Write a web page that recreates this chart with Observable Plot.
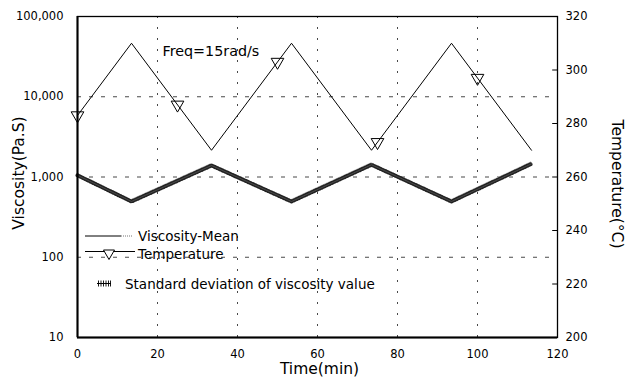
<!DOCTYPE html>
<html><head><meta charset="utf-8">
<script src="https://cdn.jsdelivr.net/npm/d3@7"></script>
<script src="https://cdn.jsdelivr.net/npm/@observablehq/plot@0.6"></script>
<style>
body{margin:0;background:#fff;}
#wrap{position:relative;width:626px;height:390px;}
#legend{position:absolute;left:0;top:0;pointer-events:none;}
</style></head><body><div id="wrap"></div>
<script>
// ---- data ----
const timeVertices = [0, 13.5, 33.5, 53.5, 73.5, 93.5, 113.5];        // min
const temperature  = [283, 310, 270, 310, 270, 310, 270];              // °C
const viscosityMean = [1050, 495, 1390, 495, 1420, 495, 1460];         // Pa.S
const viscositySD   = [60, 28, 80, 28, 80, 28, 85];                    // Pa.S
const markerTimes = [0, 25, 50, 75, 100];
const markerTemps = [283, 287, 303, 273, 297];
const timeTicks = [0, 20, 40, 60, 80, 100, 120];
const viscTicks = [10, 100, 1000, 10000, 100000];
const tempTicks = [200, 220, 240, 260, 280, 300, 320];
const gridTimes = [20, 40, 60, 80, 100];
const gridVisc = [100, 1000, 10000];

// map temperature onto the log viscosity scale (right axis)
const tMin = 200, tMax = 320, lMin = 1, lMax = 5;
const tToV = t => Math.pow(10, lMin + (t - tMin) / (tMax - tMin) * (lMax - lMin));

const visc = timeVertices.map((t, i) => ({t, mean: viscosityMean[i], sd: viscositySD[i]}));
const temp = timeVertices.map((t, i) => ({t, T: temperature[i]}));
const markers = markerTimes.map((t, i) => ({t, T: markerTemps[i]}));

const font = "DejaVu Sans, Liberation Sans, sans-serif";

const chart = Plot.plot({
  width: 626, height: 390,
  marginLeft: 77, marginRight: 69, marginTop: 16, marginBottom: 53,
  style: {fontFamily: font, fontSize: "11.5px", color: "#000", background: "#fff"},
  x: {domain: [0, 120]},
  y: {type: "log", domain: [10, 100000]},
  marks: [
    Plot.gridX(gridTimes, {stroke: "#000", strokeOpacity: 0.9, strokeWidth: 0.8, strokeDasharray: "2,9"}),
    Plot.gridY(gridVisc, {stroke: "#000", strokeOpacity: 0.9, strokeWidth: 0.8, strokeDasharray: "4,8"}),
    // standard deviation band with hatching
    Plot.areaY(visc, {x: "t", y1: d => d.mean - d.sd, y2: d => d.mean + d.sd, fill: "#b8b8b8"}),
    Plot.line(visc, {x: "t", y: "mean", stroke: "#222", strokeWidth: 4, strokeDasharray: "0.5,2.3"}),
    Plot.line(visc, {x: "t", y: "mean", stroke: "#555", strokeWidth: 0.8}),
    // temperature
    Plot.line(temp, {x: "t", y: d => tToV(d.T), stroke: "#000", strokeWidth: 1}),
    Plot.dot(markers, {x: "t", y: d => tToV(d.T), symbol: "triangle", rotate: 180, r: 4.7, stroke: "#000", fill: "none", strokeWidth: 1}),
    // right-axis inward ticks
    Plot.ruleY(tempTicks.map(tToV), {x1: 118.8, x2: 120, stroke: "#000", strokeWidth: 1}),
    // frame
    Plot.frame({stroke: "#000", strokeWidth: 1.3}),
    Plot.ruleX([0], {stroke: "#000", strokeWidth: 2}),
    Plot.ruleY([10], {stroke: "#000", strokeWidth: 2}),
    // axes
    Plot.axisX(timeTicks, {tickSize: 0, tickPadding: 12, label: null}),
    Plot.axisY(viscTicks, {anchor: "left", tickSize: 0, tickPadding: 14, tickFormat: d3.format(","), label: null}),
    // right (temperature) axis labels
    Plot.text(tempTicks, {x: 120, y: d => tToV(d), text: d => String(d), dx: 8, textAnchor: "start", fontSize: 11.5}),
    // titles
    Plot.text(["Viscosity(Pa.S)"], {text: d => d, frameAnchor: "left", textAnchor: "middle", rotate: -90, dx: -58, dy: -4, fontSize: 15.5}),
    Plot.text(["Temperature(°C)"], {text: d => d, frameAnchor: "right", textAnchor: "middle", rotate: 90, dx: 59, dy: 7, fontSize: 15.5}),
    Plot.text(["Time(min)"], {text: d => d, frameAnchor: "bottom", textAnchor: "middle", dx: 2, dy: 36, fontSize: 15.5}),
    Plot.text(["Freq=15rad/s"], {text: d => d, frameAnchor: "top-left", textAnchor: "start", dx: 85, dy: 29, fontSize: 14.3})
  ]
});
const wrap = document.getElementById("wrap");
wrap.appendChild(chart);

// legend (inside the plot area, as in the reference)
const legend = `
<svg id="legend" width="626" height="390" xmlns="http://www.w3.org/2000/svg" font-family="${font}" font-size="13.5">
  <line x1="85" y1="236" x2="121" y2="236" stroke="#000" stroke-width="1"/>
  <line x1="121" y1="236" x2="132" y2="236" stroke="#777" stroke-width="1" stroke-dasharray="1,1"/>
  <text x="138" y="236" dominant-baseline="central">Viscosity-Mean</text>
  <line x1="85" y1="251.5" x2="135" y2="251.5" stroke="#000" stroke-width="1"/>
  <path d="M103.5,250 L114.5,250 L109,259.5 Z" fill="#fff" stroke="#000" stroke-width="1"/>
  <text x="138" y="253.5" dominant-baseline="central">Temperature</text>
  <line x1="97" y1="283.5" x2="111" y2="283.5" stroke="#000" stroke-width="1"/>
  <path d="M98.5,280.5V286.5M101,280.5V286.5M103.5,280.5V286.5M106,280.5V286.5M108.5,280.5V286.5M110.5,280.5V286.5" stroke="#000" stroke-width="0.9"/>
  <text x="125" y="284" dominant-baseline="central">Standard deviation of viscosity value</text>
</svg>`;
wrap.insertAdjacentHTML("beforeend", legend);
</script></body></html>
